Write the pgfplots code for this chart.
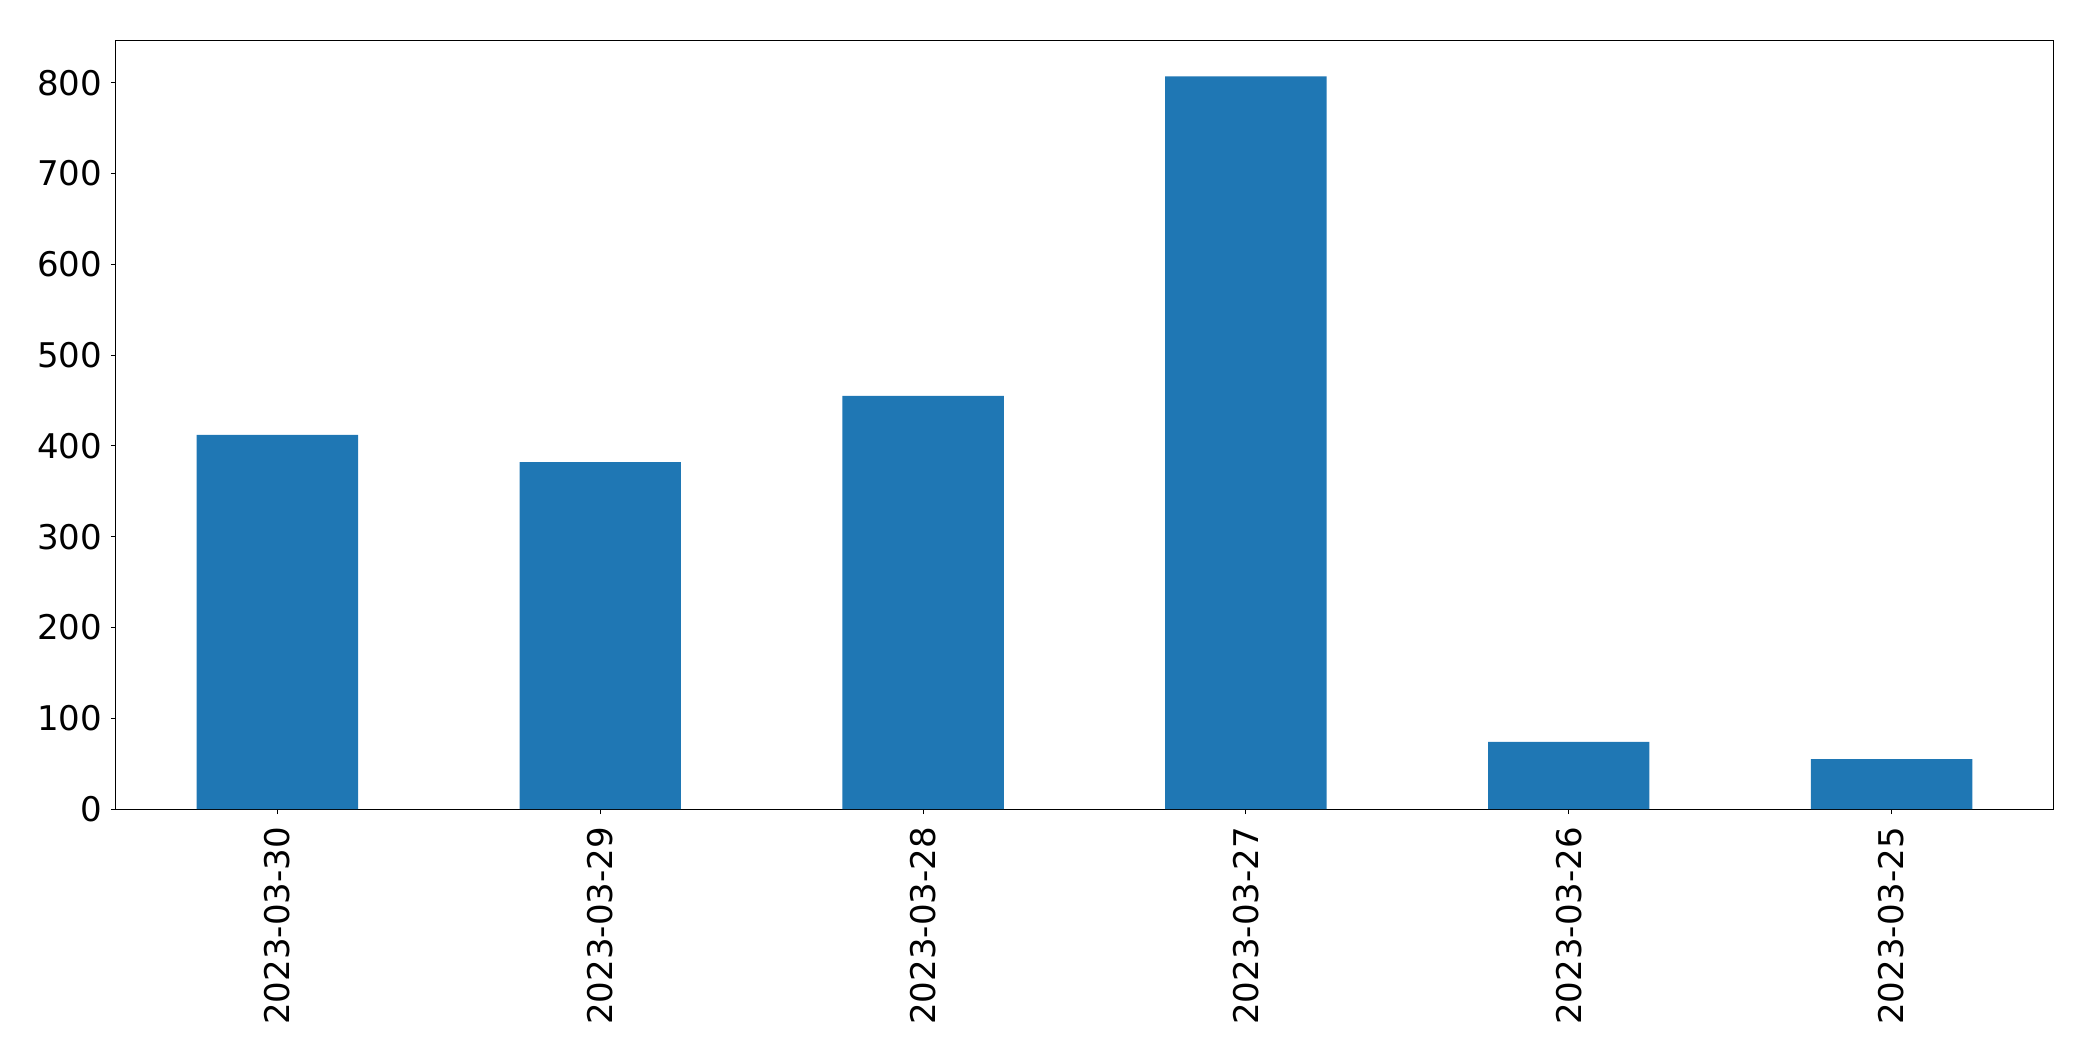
\documentclass[border=0pt]{standalone}
\usepackage{pgfplots}
\pgfplotsset{compat=1.18}
\usepackage{fontspec}
\setmainfont{DejaVu Sans}
\definecolor{mplblue}{HTML}{1F77B4}
\begin{document}
\begin{tikzpicture}
\begin{axis}[
  at={(0,0)}, anchor=south west,
  scale only axis,
  width=968.5pt, height=384.5pt,
  xmin=-0.5, xmax=5.5,
  ymin=0, ymax=847,
  xtick={0,1,2,3,4,5},
  xticklabels={2023-03-30,2023-03-29,2023-03-28,2023-03-27,2023-03-26,2023-03-25},
  ytick={0,100,200,300,400,500,600,700,800},
  x tick label style={rotate=90, anchor=east, yshift=0pt, xshift=-3pt},
  y tick label style={xshift=-1pt},
  tick align=outside,
  xtick pos=bottom, ytick pos=left,
  major tick length=2.5pt,
  tick style={black, line width=0.5pt},
  axis line style={line width=0.5pt},
  ticklabel style={font=\fontsize{17}{20}\selectfont},
  /pgf/number format/assume math mode=true,
  scaled y ticks=false,
]
\addplot[ybar, bar width=0.5, fill=mplblue, draw=none, bar shift=0pt]
  coordinates {(0,412) (1,382) (2,455) (3,807) (4,74) (5,55)};
\end{axis}
\pgfresetboundingbox
\path (-58pt,-126pt) rectangle (988.5pt,404.5pt);
\end{tikzpicture}
\end{document}
